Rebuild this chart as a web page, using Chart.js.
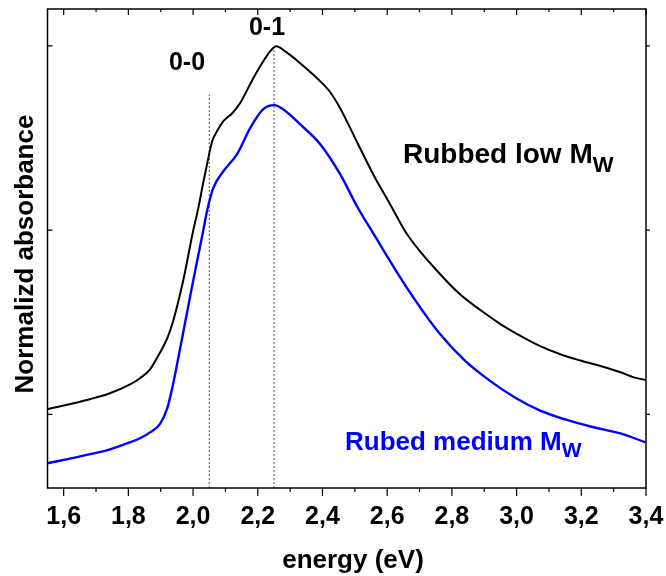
<!DOCTYPE html>
<html>
<head>
<meta charset="utf-8">
<script src="https://cdn.jsdelivr.net/npm/chart.js@4.4.1/dist/chart.umd.min.js"></script>
<style>
  html, body { margin: 0; padding: 0; background: #fff; }
  #wrap { width: 666px; height: 576px; }
</style>
</head>
<body>
<div id="wrap"><canvas id="chart" width="666" height="576"></canvas></div>
<script>
// DATA
let energyLow = [1.55, 1.681, 1.743, 1.805, 1.836, 1.867, 1.898, 1.92, 1.938, 1.969, 2.0, 2.016, 2.031, 2.043, 2.059, 2.074, 2.093, 2.121, 2.145, 2.186, 2.217, 2.238, 2.257, 2.285, 2.331, 2.393, 2.424, 2.455, 2.51, 2.557, 2.609, 2.662, 2.764, 2.826, 2.888, 2.95, 3.012, 3.073, 3.135, 3.197, 3.259, 3.321, 3.36, 3.4];
let absLow = [0.014, 0.041, 0.057, 0.081, 0.098, 0.122, 0.168, 0.206, 0.252, 0.361, 0.497, 0.559, 0.627, 0.678, 0.741, 0.768, 0.795, 0.817, 0.844, 0.912, 0.958, 0.985, 0.999, 0.985, 0.953, 0.904, 0.874, 0.83, 0.733, 0.651, 0.57, 0.488, 0.38, 0.325, 0.283, 0.245, 0.213, 0.185, 0.163, 0.146, 0.131, 0.114, 0.101, 0.093];

let energyMed = [1.55, 1.651, 1.743, 1.805, 1.836, 1.867, 1.898, 1.92, 1.938, 1.969, 2.0, 2.031, 2.043, 2.062, 2.093, 2.136, 2.176, 2.217, 2.251, 2.278, 2.331, 2.393, 2.455, 2.507, 2.557, 2.662, 2.764, 2.841, 2.919, 2.996, 3.073, 3.15, 3.228, 3.321, 3.398];
let absMed = [-0.133, -0.114, -0.095, -0.076, -0.065, -0.049, -0.026, 0.016, 0.081, 0.22, 0.361, 0.497, 0.551, 0.613, 0.659, 0.706, 0.776, 0.828, 0.839, 0.828, 0.787, 0.733, 0.651, 0.564, 0.491, 0.342, 0.217, 0.145, 0.09, 0.045, 0.01, -0.014, -0.033, -0.052, -0.076];

// dotted marker lines (0-0 and 0-1 transitions)
let markerEnergy = [2.05, 2.25];
let markerTop = [0.868, 1.0];

let xTickValues = [1.6, 1.8, 2.0, 2.2, 2.4, 2.6, 2.8, 3.0, 3.2, 3.4];
let xMinorValues = [1.7, 1.9, 2.1, 2.3, 2.5, 2.7, 2.9, 3.1, 3.3];
let yTickValues = [0, 0.5, 1.0];

let xMin = 1.55, xMax = 3.4;
let yMin = -0.2, yMax = 1.1;

const FONT = "'Liberation Sans', Arial, sans-serif";

function toPoints(xs, ys) {
    return xs.map((x, i) => ({ x: x, y: ys[i] }));
}

let markerSets = markerEnergy.map((e, i) => ({
    data: [{ x: e, y: yMin }, { x: e, y: markerTop[i] }],
    borderColor: "#555",
    borderWidth: 1,
    borderDash: [2, 2],
    pointRadius: 0,
    showLine: true
}));

// FRAME, TICKS AND LABELS
const decor = {
    id: "decor",
    afterDraw(chart) {
        let ctx = chart.ctx;
        let a = chart.chartArea;
        let xs = chart.scales.x;
        let ys = chart.scales.y;
        ctx.save();
        ctx.strokeStyle = "#000";
        ctx.lineWidth = 1.5;
        ctx.strokeRect(a.left, a.top, a.right - a.left, a.bottom - a.top);

        ctx.lineWidth = 1.2;
        ctx.beginPath();
        xTickValues.forEach(v => {
            let px = xs.getPixelForValue(v);
            ctx.moveTo(px, a.bottom); ctx.lineTo(px, a.bottom + 8);
            ctx.moveTo(px, a.top); ctx.lineTo(px, a.top + 6);
        });
        xMinorValues.forEach(v => {
            let px = xs.getPixelForValue(v);
            ctx.moveTo(px, a.bottom); ctx.lineTo(px, a.bottom + 4);
            ctx.moveTo(px, a.top); ctx.lineTo(px, a.top + 3);
        });
        yTickValues.forEach(v => {
            let py = ys.getPixelForValue(v);
            ctx.moveTo(a.left, py); ctx.lineTo(a.left + 5, py);
            ctx.moveTo(a.right, py); ctx.lineTo(a.right + 4, py);
        });
        ctx.stroke();

        ctx.fillStyle = "#000";
        ctx.textAlign = "center";
        ctx.textBaseline = "alphabetic";
        ctx.font = "bold 26px " + FONT;
        ctx.fillText("energy (eV)", 353, 568);

        ctx.save();
        ctx.translate(33, 254);
        ctx.rotate(-Math.PI / 2);
        ctx.font = "bold 26px " + FONT;
        ctx.fillText("Normalizd absorbance", 0, 0);
        ctx.restore();

        ctx.font = "bold 25px " + FONT;
        ctx.fillText("0-0", 187, 70);
        ctx.fillText("0-1", 267, 35);

        ctx.textAlign = "left";
        ctx.font = "bold 28px " + FONT;
        ctx.fillText("Rubbed low M", 403, 163);
        let w1 = ctx.measureText("Rubbed low M").width;
        ctx.font = "bold 22px " + FONT;
        ctx.fillText("W", 403 + w1, 172);

        ctx.fillStyle = "#0000ff";
        ctx.font = "bold 26px " + FONT;
        ctx.fillText("Rubed medium M", 345, 450);
        let w2 = ctx.measureText("Rubed medium M").width;
        ctx.font = "bold 21px " + FONT;
        ctx.fillText("W", 345 + w2, 457);
        ctx.restore();
    }
};

new Chart(document.getElementById("chart"), {
    type: "scatter",
    data: {
        datasets: [
            {
                data: toPoints(energyLow, absLow),
                borderColor: "#000",
                borderWidth: 2,
                pointRadius: 0,
                showLine: true,
                cubicInterpolationMode: "monotone"
            },
            {
                data: toPoints(energyMed, absMed),
                borderColor: "#0000ff",
                borderWidth: 2.4,
                pointRadius: 0,
                showLine: true,
                cubicInterpolationMode: "monotone"
            }
        ].concat(markerSets)
    },
    options: {
        responsive: false,
        animation: false,
        layout: { padding: { top: 9, right: 20, left: 0, bottom: 0 } },
        plugins: { legend: { display: false }, tooltip: { enabled: false } },
        scales: {
            x: {
                type: "linear",
                min: xMin,
                max: xMax,
                afterBuildTicks: s => { s.ticks = xTickValues.map(v => ({ value: v })); },
                afterFit: s => { s.height = 88; s.paddingLeft = 0; s.paddingRight = 0; },
                grid: { display: false, drawTicks: false },
                border: { display: false },
                ticks: {
                    padding: 14,
                    maxRotation: 0,
                    autoSkip: false,
                    color: "#000",
                    font: { family: FONT, size: 25, weight: "bold" },
                    callback: v => v.toFixed(1).replace(".", ",")
                }
            },
            y: {
                min: yMin,
                max: yMax,
                afterFit: s => { s.width = 47.5; },
                grid: { display: false, drawTicks: false },
                border: { display: false },
                ticks: { display: false }
            }
        }
    },
    plugins: [decor]
});
</script>
</body>
</html>
